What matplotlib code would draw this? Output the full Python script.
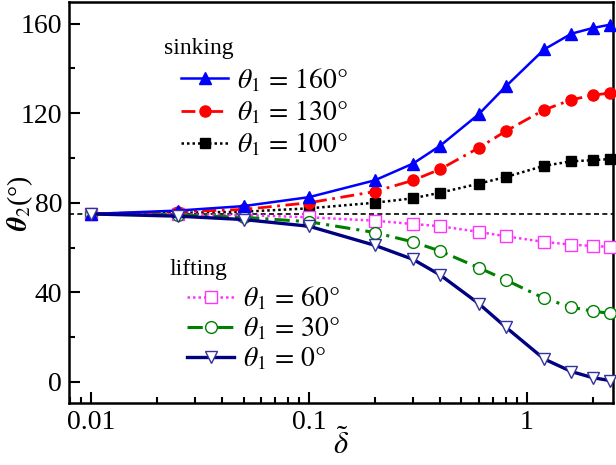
import numpy as np
import matplotlib
matplotlib.use("Agg")
import matplotlib.pyplot as plt

plt.rcParams["font.family"] = ["Liberation Serif", "DejaVu Serif"]
plt.rcParams["mathtext.fontset"] = "stix"

# reduced thickness (log axis)
delta = [0.01, 0.025, 0.05, 0.1, 0.2, 0.3, 0.4, 0.6, 0.8, 1.2, 1.6, 2.0, 2.4]

# theta_2 (deg) for each theta_1
th160 = [75, 76.5, 78.5, 82.5, 90, 97.5, 105.5, 119.5, 132, 148.5, 155.5, 158, 159.5]
th130 = [75, 76, 77, 80, 85, 90, 95, 104.5, 112, 121.5, 126, 128, 129]
th100 = [75, 75.5, 76, 77.5, 80, 82, 84.5, 88.5, 91.5, 96.5, 98.5, 99, 99.5]
th60 = [75, 74.8, 74.5, 73.5, 72, 70.5, 69.5, 67, 65, 62.5, 61.3, 60.7, 60.3]
th30 = [75, 74.5, 73.5, 71.5, 66.7, 62.5, 58.4, 51, 45.5, 37.3, 33.3, 31.6, 30.6]
th0 = [75, 74, 72.5, 69.5, 61, 54.7, 47.7, 35, 24.4, 10.2, 4.6, 1.9, 0.6]

neutral = 75

sink_labels = [r"$\theta_1 \,=\, 160°$", r"$\theta_1 \,=\, 130°$", r"$\theta_1 \,=\, 100°$"]
lift_labels = [r"$\theta_1 \,=\, 60°$", r"$\theta_1 \,=\, 30°$", r"$\theta_1 \,=\, 0°$"]

fig = plt.figure(figsize=(6.16, 4.65), dpi=100)
ax = fig.add_axes([0.112, 0.133, 0.883, 0.862])

ax.axhline(neutral, color="black", ls=(0, (3, 2)), lw=1.2, zorder=1)

sink = []
sink.append(ax.plot(delta, th160, color="#0000ff", lw=1.8, ls="-",
                    marker="^", ms=8.5, mfc="#0000ff", mec="#0000ff",
                    clip_on=False, zorder=5)[0])
sink.append(ax.plot(delta, th130, color="#ff0000", lw=2.0, ls=(0, (5, 2, 1, 2)),
                    marker="o", ms=8, mfc="#ff0000", mec="#ff0000",
                    clip_on=False, zorder=4)[0])
sink.append(ax.plot(delta, th100, color="black", lw=1.8, ls=(0, (1, 1.2)),
                    marker="s", ms=7, mfc="black", mec="black",
                    clip_on=False, zorder=3)[0])

lift = []
lift.append(ax.plot(delta, th60, color="#ff33ff", lw=1.8, ls=(0, (1, 1.2)),
                    marker="s", ms=8, mfc="white", mec="#ff33ff", mew=1.0,
                    clip_on=False, zorder=3)[0])
lift.append(ax.plot(delta, th30, color="#008000", lw=2.2, ls=(0, (5, 2, 1, 2)),
                    marker="o", ms=8.5, mfc="white", mec="#008000", mew=1.0,
                    clip_on=False, zorder=4)[0])
lift.append(ax.plot(delta, th0, color="#000080", lw=2.4, ls="-",
                    marker="v", ms=9, mfc="white", mec="#333399", mew=1.0,
                    clip_on=False, zorder=5)[0])

ax.set_xscale("log")
ax.set_xlim(0.0079, 2.48)
ax.set_ylim(-9.5, 169.5)
ax.set_yticks([0, 40, 80, 120, 160])
ax.set_yticks([20, 60, 100, 140], minor=True)
ax.xaxis.set_major_formatter(matplotlib.ticker.FuncFormatter(
    lambda v, p: {0.01: "0.01", 0.1: "0.1", 1: "1"}.get(round(v, 3), "")))

ax.tick_params(which="both", direction="in", top=False, right=False,
               width=1.5, labelsize=20)
ax.tick_params(which="major", length=8, pad=5)
ax.tick_params(which="minor", length=4)
for s in ax.spines.values():
    s.set_linewidth(1.8)

ax.set_xlabel(r"$\tilde{\delta}$", fontsize=22, labelpad=-4)
ax.set_ylabel(r"$\mathbfit{\theta}_2$(°)", fontsize=20)
ax.yaxis.set_label_coords(-0.062, 0.5)

ax.text(0.175, 0.885, "sinking", transform=ax.transAxes, fontsize=17,
        va="center", ha="left")
leg1 = ax.legend(sink, sink_labels, loc="upper left", frameon=False,
                 bbox_to_anchor=(0.206, 0.84), fontsize=20, handlelength=1.7,
                 handletextpad=0.3, labelspacing=0.17, borderpad=0,
                 borderaxespad=0)
ax.add_artist(leg1)

ax.text(0.184, 0.334, "lifting", transform=ax.transAxes, fontsize=17,
        va="center", ha="left")
ax.legend(lift, lift_labels, loc="upper left", frameon=False,
          bbox_to_anchor=(0.217, 0.295), fontsize=20, handlelength=1.7,
          handletextpad=0.3, labelspacing=0.12, borderpad=0, borderaxespad=0)

fig.savefig("out.png", dpi=100)
